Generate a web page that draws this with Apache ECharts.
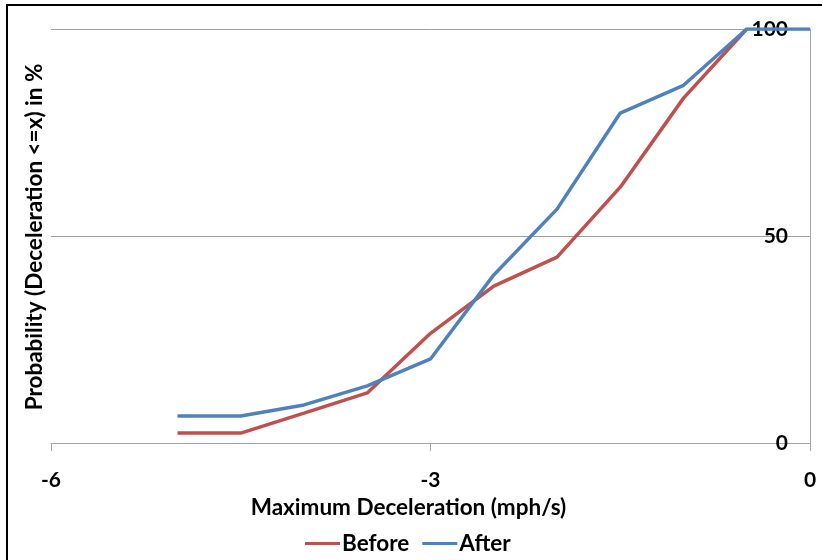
<!DOCTYPE html>
<html>
<head>
<meta charset="utf-8">
<script src="https://cdn.jsdelivr.net/npm/echarts@6/dist/echarts.min.js"></script>
<style>
  html, body { margin: 0; padding: 0; background: #fff; }
  #chart { width: 822px; height: 560px; }
</style>
</head>
<body>
<div id="chart"></div>
<script>
// Deceleration values (mph/s) at which the cumulative share is measured
const decel = [-5, -4.5, -4, -3.5, -3, -2.5, -2, -1.5, -1, -0.5, 0];
// Cumulative probability (%) of deceleration <= x
const before = [2.4, 2.4, 7.2, 12.1, 26.5, 37.9, 44.9, 61.8, 83.3, 100];
const after = [6.5, 6.5, 9.2, 13.8, 20.3, 40.6, 56.5, 79.7, 86.4, 100, 100];
const xTicks = [-6, -3, 0];
const yTicks = [0, 50, 100];

const FONT = 'Lato, "Open Sans", sans-serif';
const TICK_FS = 21;
const TITLE_FS = 22.5;
const pairs = (ys) => ys.map((y, i) => [decel[i], y]);

const chart = echarts.init(document.getElementById('chart'), null, { renderer: 'canvas' });
chart.setOption({
  animation: false,
  backgroundColor: '#fff',
  grid: { left: 51, right: 12, top: 29, bottom: 117, containLabel: false },
  xAxis: {
    type: 'value',
    min: xTicks[0], max: xTicks[xTicks.length - 1], interval: 3,
    name: 'Maximum Deceleration (mph/s)',
    nameLocation: 'middle',
    nameGap: 51,
    nameTextStyle: {
      fontFamily: FONT, fontWeight: 'bold', fontSize: TITLE_FS, color: '#000',
      padding: [0, 44, 0, 0]
    },
    axisLine: { show: true, onZero: false, lineStyle: { color: '#a6a6a6', width: 1 } },
    axisTick: { show: true, length: 8, inside: false, lineStyle: { color: '#a6a6a6' } },
    axisLabel: { margin: 27, fontFamily: FONT, fontWeight: 'bold', fontSize: TICK_FS, color: '#000' },
    splitLine: { show: false }
  },
  yAxis: {
    type: 'value',
    position: 'right',
    min: yTicks[0], max: yTicks[yTicks.length - 1], interval: 50,
    axisLine: { show: true, lineStyle: { color: '#a6a6a6', width: 1 } },
    axisTick: { show: false },
    axisLabel: { inside: true, margin: 22, fontFamily: FONT, fontWeight: 'bold', fontSize: TICK_FS, color: '#000' },
    splitLine: { show: true, lineStyle: { color: '#a0a0a0', width: 1 } }
  },
  legend: {
    top: 527,
    left: 300,
    icon: 'rect',
    itemWidth: 35,
    itemHeight: 3,
    itemGap: 13,
    textStyle: { fontFamily: FONT, fontWeight: 'bold', fontSize: TITLE_FS, color: '#000', padding: [0, 0, 0, -3] },
    data: ['Before', 'After']
  },
  series: [
    {
      name: 'Before', type: 'line', data: pairs(before),
      showSymbol: false, symbol: 'none',
      lineStyle: { color: '#C0504D', width: 3.5 }, itemStyle: { color: '#C0504D' }
    },
    {
      name: 'After', type: 'line', data: pairs(after),
      showSymbol: false, symbol: 'none',
      lineStyle: { color: '#4F81BD', width: 3.5 }, itemStyle: { color: '#4F81BD' }
    }
  ],
  graphic: [
    {
      type: 'rect',
      shape: { x: 7, y: 5, width: 840, height: 580 },
      style: { fill: 'none', stroke: '#000', lineWidth: 2 },
      silent: true
    },
    {
      type: 'text',
      x: 35, y: 237,
      rotation: Math.PI / 2,
      style: {
        text: 'Probability (Deceleration <=x) in %',
        fontFamily: FONT, fontWeight: 'bold', fontSize: TITLE_FS, fill: '#000',
        align: 'center', verticalAlign: 'middle'
      }
    }
  ]
});
</script>
</body>
</html>
